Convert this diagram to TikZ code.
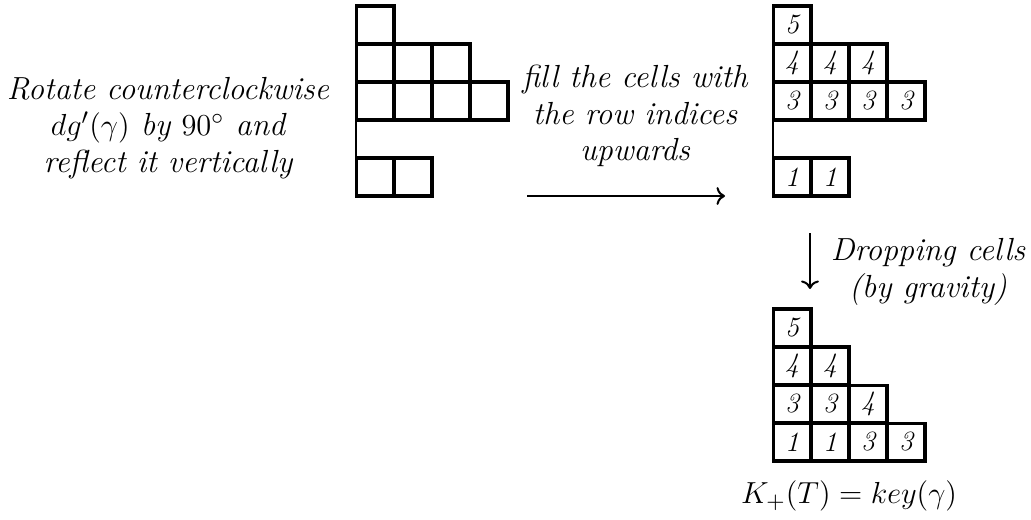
\documentclass[tikz,border=0pt]{standalone}
\usepackage{amsmath}
\usetikzlibrary{arrows.meta,positioning}

\begin{document}
\begin{tikzpicture}[
  x=0.01385cm, y=-0.01385cm,
  cell/.style={draw, line width=1.2pt, minimum size=0.526cm, inner sep=0pt,
    outer sep=0pt, font=\fontsize{11}{13}\selectfont\itshape},
  note/.style={align=center, font=\fontsize{12.6}{14.5}\selectfont\itshape},
  arr/.style={->, thick},
]
\useasboundingbox (0,0) rectangle (1031,519);

% rotated and reflected diagram
\foreach \c/\r in {1/5, 1/4,2/4,3/4, 1/3,2/3,3/3,4/3, 1/1,2/1}
  \node[cell] (L\r\c) at (337+38*\c, 215-38*\r) {};
\draw[line width=1.1pt] (L31.south west) -- (L11.north west);
\node[note] (rot) at (168,128) {Rotate counterclockwise\\
  $dg'(\gamma)$ by $90^\circ$ and\\ reflect it vertically};

% filled with row indices
\foreach \c/\r/\v in {1/5/5, 1/4/4,2/4/4,3/4/4, 1/3/3,2/3/3,3/3/3,4/3/3, 1/1/1,2/1/1}
  \node[cell] (R\r\c) at (754+38*\c, 215-38*\r) {\v};
\draw[line width=1.1pt] (R31.south west) -- (R11.north west);

\coordinate (fillA) at (527,196);
\coordinate (fillB) at (725,196);
\draw[arr] (fillA) -- (fillB);
\node[note] (fill) at (635,116) {fill the cells with\\ the row indices\\ upwards};

% after dropping
\foreach \c/\r/\v in {1/4/5, 1/3/4,2/3/4, 1/2/3,2/2/3,3/2/4, 1/1/1,2/1/1,3/1/3,4/1/3}
  \node[cell] (K\r\c) at (754+38*\c, 480-38*\r) {\v};

\coordinate (dropA) at (810,233);
\coordinate (dropB) at (810,289);
\draw[arr] (dropA) -- (dropB);
\node[note] (drop) at (928,272) {Dropping cells\\ (by gravity)};

\node[font=\fontsize{12.6}{14.5}\selectfont] (key) at (849,496) {$K_+(T) = key(\gamma)$};
\end{tikzpicture}
\end{document}
